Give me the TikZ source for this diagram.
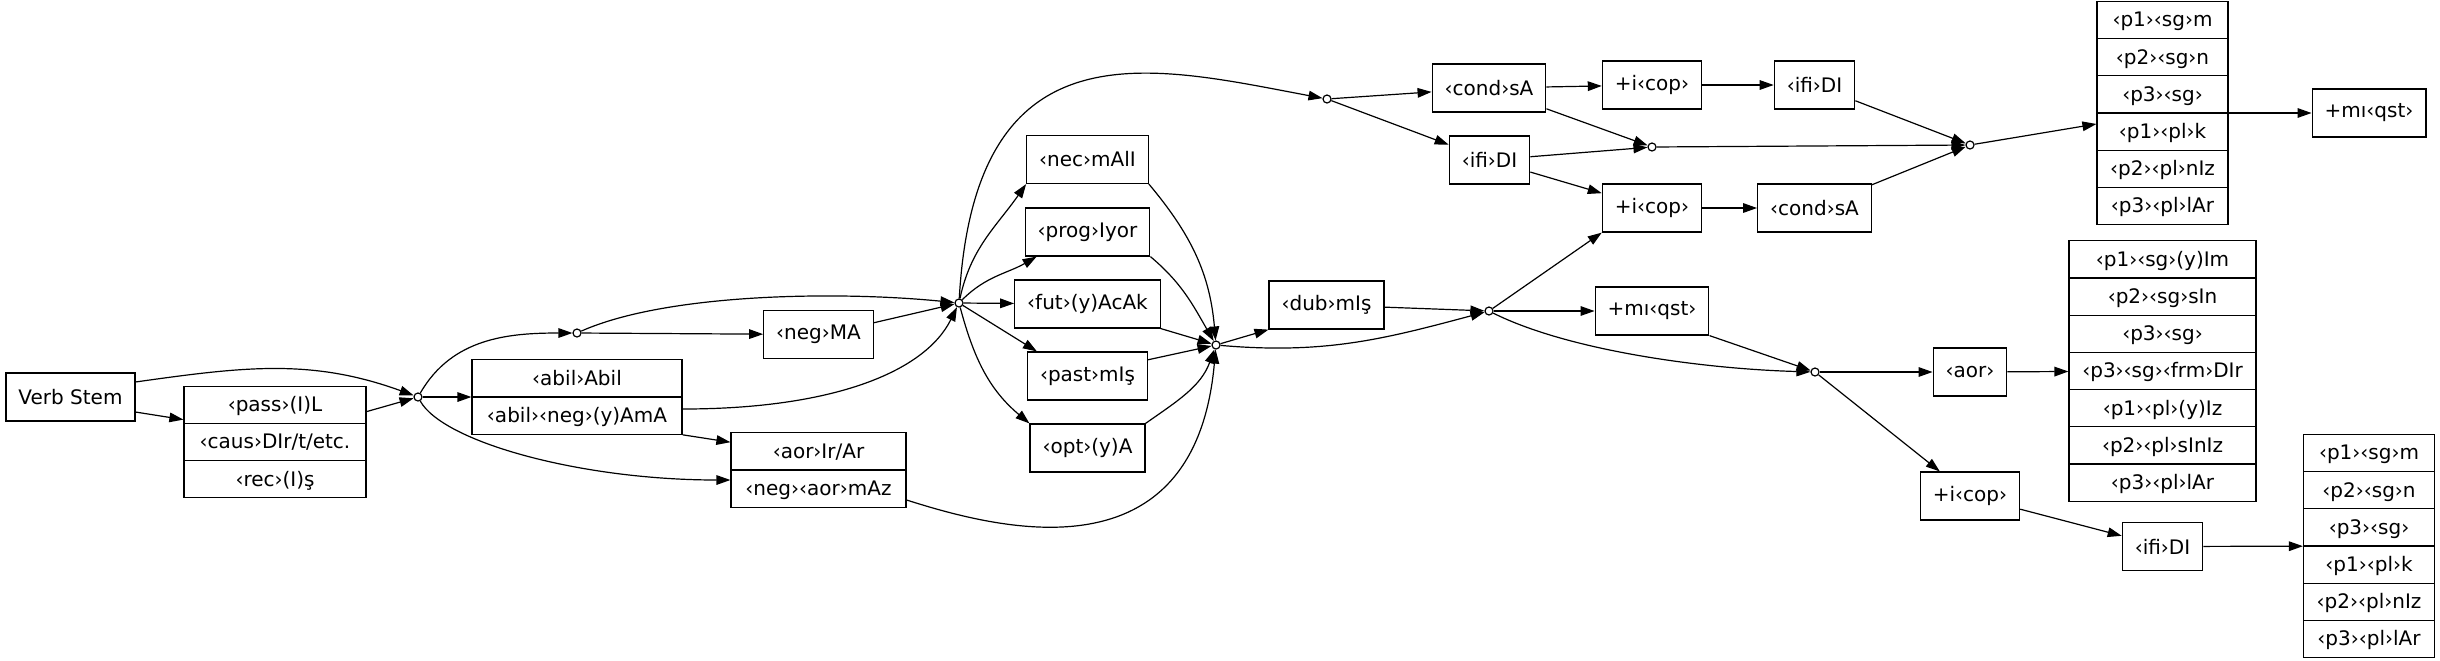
\documentclass[tikz,border=0pt]{standalone}
\usepackage{fontspec}
\setmainfont{DejaVu Sans}
\usetikzlibrary{arrows.meta,shapes.multipart}
\newcommand{\tg}[1]{‹#1›}% tag in small angle brackets
\newcommand{\rowstrut}{\rule[-5.6pt]{0pt}{18pt}}% one record row, 18pt high
\tikzset{
  box/.style={draw,fill=white,minimum height=24pt,minimum width=36pt,inner xsep=6.25pt,inner ysep=0pt},
  rec/.style={draw,fill=white,rectangle split,inner ysep=0pt,inner xsep=4pt},
  junc/.style={draw,fill=white,circle,inner sep=0pt,minimum size=4pt},
}
\begin{document}
\begin{tikzpicture}[x=0.5pt,y=-0.5pt,line width=0.6pt,>={Triangle[length=7pt,width=4.8pt]}]
  \useasboundingbox (0,0) rectangle (2440,660);
  % ---- stem, voice, ability ----
  \node[box] (stem) at (70.5,397) {Verb Stem};
  \node[rec,rectangle split parts=3,minimum width=91pt] (voice) at (275,442)
    {\rowstrut\tg{pass}(I)L\nodepart{two}\rowstrut\tg{caus}DIr/t/etc.\nodepart{three}\rowstrut\tg{rec}(I)ş};
  \node[junc] (j1) at (418,397) {};
  \node[junc] (j2) at (577,333) {};
  \node[rec,rectangle split parts=2,minimum width=105pt] (abil) at (577,397)
    {\rowstrut\tg{abil}Abil\nodepart{two}\rowstrut\tg{abil}\tg{neg}(y)AmA};
  \node[box] (negma) at (818.5,334.5) {\tg{neg}MA};
  \node[rec,rectangle split parts=2,minimum width=87.5pt] (aorir) at (818.5,470)
    {\rowstrut\tg{aor}Ir/Ar\nodepart{two}\rowstrut\tg{neg}\tg{aor}mAz};
  % ---- tense / aspect / mood ----
  \node[junc] (j3) at (959,303) {};
  \node[box] (nec) at (1087.5,159.5) {\tg{nec}mAlI};
  \node[box] (prog) at (1087.5,232) {\tg{prog}Iyor};
  \node[box] (fut) at (1087.5,304) {\tg{fut}(y)AcAk};
  \node[box] (past) at (1087.5,376) {\tg{past}mIş};
  \node[box] (opt) at (1087.5,448) {\tg{opt}(y)A};
  \node[junc] (j4) at (1216,345) {};
  \node[box] (dub) at (1326.5,305) {\tg{dub}mIş};
  \node[junc] (j5) at (1489,311) {};
  \node[box] (qst) at (1652,311) {+mı\tg{qst}};
  \node[junc] (j6) at (1815,372) {};
  \node[box] (aor) at (1970,372) {\tg{aor}};
  \node[box] (copl) at (1970,496) {+i\tg{cop}};
  \node[box] (ifil) at (2162.5,546.5) {\tg{ifi}DI};
  % ---- conditional branch ----
  \node[junc] (j7) at (1327,99) {};
  \node[box] (condt) at (1489,88) {\tg{cond}sA};
  \node[box] (copt) at (1652,85) {+i\tg{cop}};
  \node[box] (ifit) at (1814.5,85) {\tg{ifi}DI};
  \node[box] (ifim) at (1489.5,160) {\tg{ifi}DI};
  \node[junc] (j8) at (1652,147) {};
  \node[box] (copm) at (1652,208) {+i\tg{cop}};
  \node[box] (condm) at (1814.5,208) {\tg{cond}sA};
  \node[junc] (j9) at (1970,145) {};
  % ---- person endings ----
  \node[rec,rectangle split parts=6,minimum width=65.5pt] (perst) at (2162.5,113)
    {\rowstrut\tg{p1}\tg{sg}m\nodepart{two}\rowstrut\tg{p2}\tg{sg}n\nodepart{three}\rowstrut\tg{p3}\tg{sg}%
     \nodepart{four}\rowstrut\tg{p1}\tg{pl}k\nodepart{five}\rowstrut\tg{p2}\tg{pl}nIz\nodepart{six}\rowstrut\tg{p3}\tg{pl}lAr};
  \node[box] (qstt) at (2369,113) {+mı\tg{qst}};
  \node[rec,rectangle split parts=7,minimum width=93.5pt] (persa) at (2162.5,371)
    {\rowstrut\tg{p1}\tg{sg}(y)Im\nodepart{two}\rowstrut\tg{p2}\tg{sg}sIn\nodepart{three}\rowstrut\tg{p3}\tg{sg}%
     \nodepart{four}\rowstrut\tg{p3}\tg{sg}\tg{frm}DIr\nodepart{five}\rowstrut\tg{p1}\tg{pl}(y)Iz%
     \nodepart{six}\rowstrut\tg{p2}\tg{pl}sInIz\nodepart{seven}\rowstrut\tg{p3}\tg{pl}lAr};
  \node[rec,rectangle split parts=6,minimum width=65.5pt] (persl) at (2369,546)
    {\rowstrut\tg{p1}\tg{sg}m\nodepart{two}\rowstrut\tg{p2}\tg{sg}n\nodepart{three}\rowstrut\tg{p3}\tg{sg}%
     \nodepart{four}\rowstrut\tg{p1}\tg{pl}k\nodepart{five}\rowstrut\tg{p2}\tg{pl}nIz\nodepart{six}\rowstrut\tg{p3}\tg{pl}lAr};
  % ---- edges, left part ----
  \draw[->] (stem.13) to[out=8,in=160] (j1);
  \draw[->] (stem.-13) -- ([yshift=-17pt]voice.north west);
  \draw[->] ([yshift=-13pt]voice.north east) -- (j1);
  \draw[->] (j1) to[out=60,in=180] (j2);
  \draw[->] (j1) -- (abil);
  \draw[->] (j1) .. controls +(25,45) and +(-150,0) .. ([yshift=-5pt]aorir.west);
  \draw[->] (j2) -- (negma);
  \draw[->] (j2) .. controls +(90,-40) and +(-120,-12) .. (j3);
  \draw[->] (negma.12) -- (j3);
  \draw[->] ([yshift=-6pt]abil.east) .. controls +(150,0) and +(-34,69) .. (j3);
  \draw[->] (abil.south east) -- ([yshift=-5pt]aorir.north west);
  % ---- edges, middle part ----
  \draw[->] (j3) to[out=78,in=-125] (nec.south west);
  \draw[->] (j3) to[out=45,in=-150] ([xshift=6pt]prog.south west);
  \draw[->] (j3) -- (fut);
  \draw[->] (j3) -- ([xshift=5pt]past.north west);
  \draw[->] (j3) to[out=-75,in=140] (opt.north west);
  \draw[->] (j3) .. controls +(16,-283) and +(-176,-33) .. (j7);
  \draw[->] (nec.south east) to[out=-50,in=95] (j4);
  \draw[->] (prog.south east) to[out=-40,in=120] (j4);
  \draw[->] (fut.south east) -- (j4);
  \draw[->] (past.15) -- (j4);
  \draw[->] (opt.north east) to[out=35,in=-110] (j4);
  \draw[->] ([yshift=-15pt]aorir.east) .. controls +(94,30) and +(-21,235) .. (j4);
  \draw[->] (j4) -- (dub.south west);
  \draw[->] (j4) to[out=-5,in=195] (j5);
  \draw[->] (dub) -- (j5);
  % ---- edges, right part ----
  \draw[->] (j5) -- (copm.south west);
  \draw[->] (j5) -- (qst);
  \draw[->] (j5) .. controls +(80,40) and +(-110,-3) .. (j6);
  \draw[->] (qst.south east) -- (j6);
  \draw[->] (j6) -- (aor);
  \draw[->] (j6) -- ([xshift=10pt]copl.north west);
  \draw[->] (aor) -- (persa);
  \draw[->] (copl) -- (ifil);
  \draw[->] (ifil) -- (persl);
  \draw[->] (j7) -- (condt);
  \draw[->] (j7) -- (ifim);
  \draw[->] (condt) -- (copt);
  \draw[->] (copt) -- (ifit);
  \draw[->] (ifit) -- (j9);
  \draw[->] (condt) -- (j8);
  \draw[->] (ifim) -- (j8);
  \draw[->] (ifim) -- (copm);
  \draw[->] (copm) -- (condm);
  \draw[->] (condm) -- (j9);
  \draw[->] (j8) -- (j9);
  \draw[->] (j9) -- (perst);
  \draw[->] (perst) -- (qstt);
\end{tikzpicture}
\end{document}
